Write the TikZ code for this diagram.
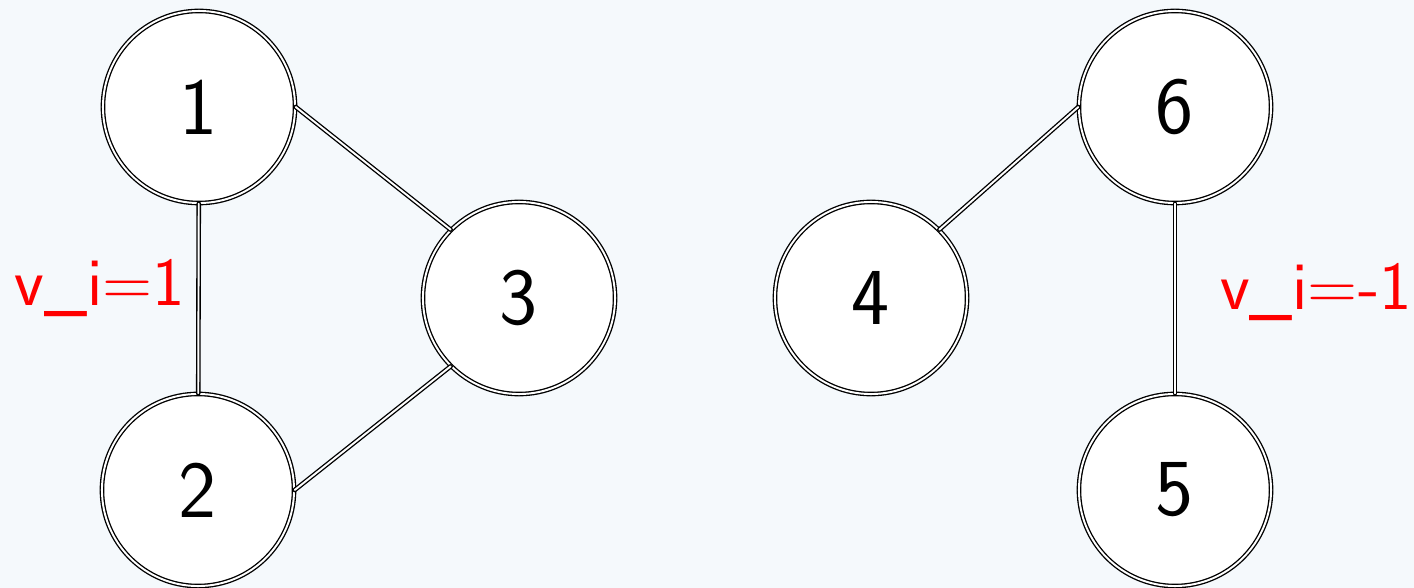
\documentclass[tikz,border=0pt]{standalone}
\usetikzlibrary{positioning}
\definecolor{bgpale}{RGB}{245,249,252}
\definecolor{labred}{RGB}{255,0,0}

\begin{document}
\begin{tikzpicture}[x=0.01cm,y=-0.01cm,line cap=round,line join=round,
  vertex/.style={circle,draw=black,double=white,line width=0.38pt,double distance=0.55pt,
    fill=white,minimum size=1.92cm,inner sep=0pt,font=\sffamily\fontsize{23}{27}\selectfont},
  link/.style={draw=black,double=white,line width=0.38pt,double distance=0.55pt},
  vlabel/.style={text=labred,inner sep=0pt,font=\sffamily\fontsize{19.5}{23}\selectfont}]
  \fill[bgpale] (0,0) rectangle (1414,588);
  \useasboundingbox (0,0) rectangle (1414,588);
  \node[vertex] (n1) at (199,107) {1};
  \node[vertex] (n2) at (198,490) {2};
  \node[vertex] (n3) at (519,298) {3};
  \node[vertex] (n4) at (871,298) {4};
  \node[vertex] (n6) at (1175,107) {6};
  \node[vertex] (n5) at (1175,490) {5};
  \draw[link] (n1) -- (n2);
  \draw[link] (n1.east) -- (n3.north west);
  \draw[link] (n2.east) -- (n3.south west);
  \draw[link] (n4.north east) -- (n6.west);
  \draw[link] (n6) -- (n5);
  \node[vlabel] (lab1) at (100,288) {v\textunderscore i=1};
  \node[vlabel] (lab2) at (1316,292) {v\textunderscore i=-1};
\end{tikzpicture}
\end{document}
